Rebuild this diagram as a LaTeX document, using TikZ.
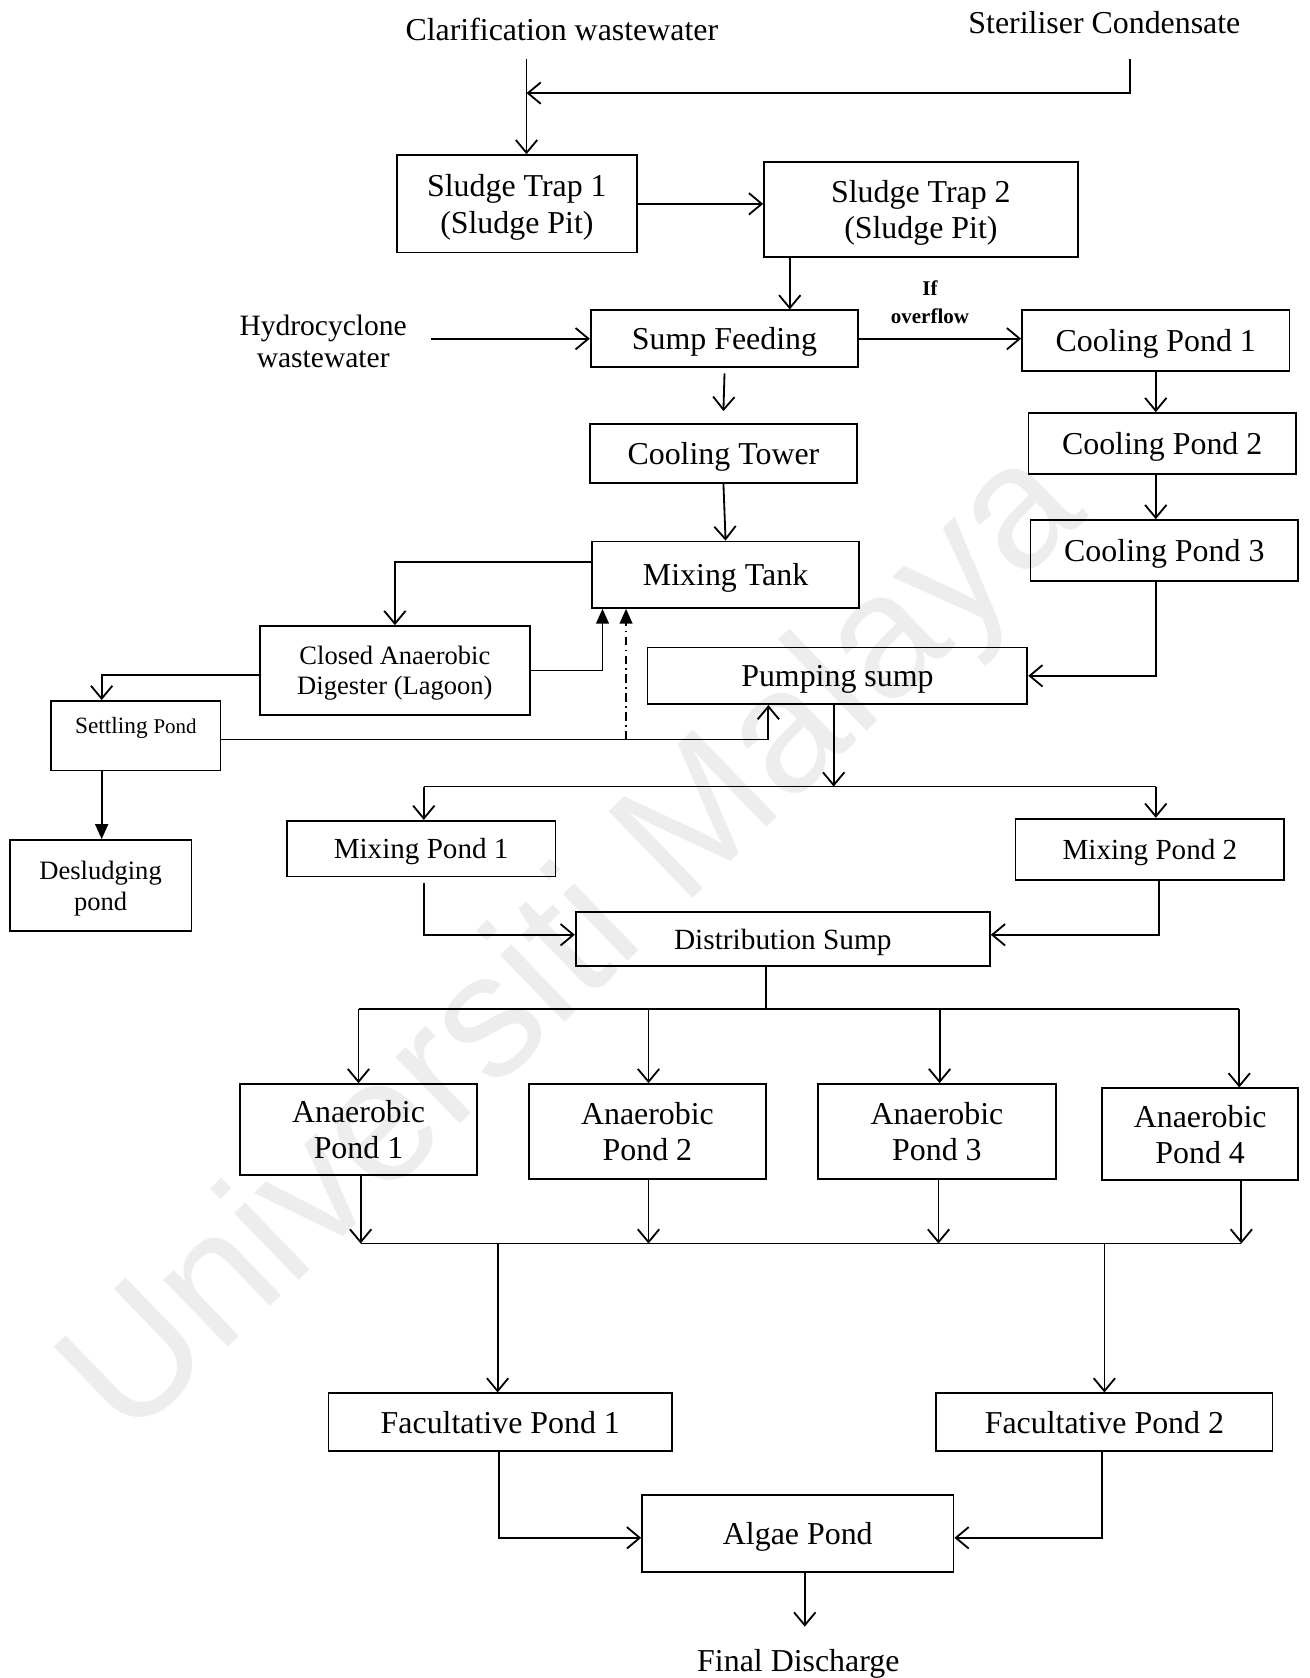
\documentclass[tikz,border=0pt]{standalone}
\usepackage{fontspec}
\setmainfont{Liberation Serif}
\newfontfamily\wmfont{Liberation Sans}
\usetikzlibrary{arrows.meta}
\begin{document}
\begin{tikzpicture}[x=0.5pt,y=-0.5pt,
  box/.style={draw, line width=0.85pt, inner sep=0pt, text depth=0pt, align=center, font=\fontsize{14.9}{17}\selectfont},
  sz/.style 2 args={minimum width=#1*0.5pt, minimum height=#2*0.5pt},
  flow/.style={draw, line width=0.85pt, -{Straight Barb[length=6pt,width=10pt,line width=0.85pt]}},
  fflow/.style={draw, line width=0.85pt, -{Triangle[length=7pt,width=6pt]}},
  plain/.style={draw, line width=0.85pt},
  lbl/.style={inner sep=0pt, text depth=0pt, align=center, font=\fontsize{14.9}{17}\selectfont}]
\useasboundingbox (0,0) rectangle (1224,1568);
\fill[white] (0,0) rectangle (1224,1568);
% watermark
\node[rotate=44, text=black!7, inner sep=0pt, font=\wmfont\fontsize{82}{82}\selectfont] (wm) at (540,885) {Universiti Malaya};

% boxes
\node[box, sz={224}{91}] (st1) at (483,190.5) {Sludge Trap 1\\(Sludge Pit)};
\node[box, sz={293}{89}] (st2) at (860.5,195.5) {Sludge Trap 2\\(Sludge Pit)};
\node[box, sz={250}{53}] (sf) at (677,316.5) {Sump Feeding};
\node[box, sz={250}{57}] (cp1) at (1080,318.5) {Cooling Pond 1};
\node[box, sz={250}{57}] (cp2) at (1086,414.5) {Cooling Pond 2};
\node[box, sz={250}{57}] (cp3) at (1088,514.5) {Cooling Pond 3};
\node[box, sz={250}{55}] (ct) at (676,423.5) {Cooling Tower};
\node[box, sz={250}{62}] (mt) at (678,537) {Mixing Tank};
\node[box, sz={252}{83}, font=\fontsize{12.4}{14}\selectfont] (cad) at (369,626.5) {Closed Anaerobic\\Digester (Lagoon)};
\node[box, sz={158}{65}] (sp) at (127,687.5) {};
\node[lbl, font=\fontsize{10.9}{12}\selectfont] (sptext) at (127,678) {Settling {\fontsize{9.8}{12}\selectfont Pond}};
\node[box, sz={170}{85}, font=\fontsize{12.4}{14.5}\selectfont] (dsl) at (94,827.5) {Desludging\\pond};
\node[box, sz={355}{53}] (ps) at (782.5,631.5) {Pumping sump};
\node[box, sz={251}{52}, font=\fontsize{13.6}{16}\selectfont] (mp1) at (393.5,793) {Mixing Pond 1};
\node[box, sz={251}{57}, font=\fontsize{13.6}{16}\selectfont] (mp2) at (1074.5,793.5) {Mixing Pond 2};
\node[box, sz={387}{51}, font=\fontsize{13.7}{16}\selectfont] (dsump) at (731.5,877.5) {Distribution Sump};
\node[box, sz={222}{85}] (ap1) at (335,1055.5) {Anaerobic\\Pond 1};
\node[box, sz={222}{89}] (ap2) at (605,1057.5) {Anaerobic\\Pond 2};
\node[box, sz={223}{89}] (ap3) at (875.5,1057.5) {Anaerobic\\Pond 3};
\node[box, sz={183}{86}] (ap4) at (1121.5,1060) {Anaerobic\\Pond 4};
\node[box, sz={321}{54}] (fp1) at (467.5,1329) {Facultative Pond 1};
\node[box, sz={314}{54}] (fp2) at (1032,1329) {Facultative Pond 2};
\node[box, sz={291}{72}] (alg) at (745.5,1433) {Algae Pond};

% free texts
\node[lbl] (cw) at (525,27) {Clarification wastewater};
\node[lbl] (sc) at (1032,21) {Steriliser Condensate};
\node[lbl, font=\fontsize{13.8}{15}\selectfont] (hw) at (302,319) {Hydrocyclone\\wastewater};
\node[lbl] (fd) at (746,1552) {Final Discharge};
\node[lbl, font=\bfseries\fontsize{9.8}{13}\selectfont] (ov) at (869,282) {If\\overflow};

% connectors
\coordinate (cwtop) at (492,55);
\coordinate (sctop) at (1056,55);
\coordinate (j1) at (492,87);
\draw[flow] (cwtop) -- (st1.north -| cwtop);
\draw[flow] (sctop) |- (j1);
\draw[flow] (st1.east) -- (st1.east -| st2.west);
\draw[flow] (st2.south -| 738,0) -- (sf.north -| 738,0);
\draw[flow] (sf.west -| 403,0) -- (sf.west);
\draw[flow] (sf.east) -- (sf.east -| cp1.west);
\draw[flow] ([yshift=-2.5pt]sf.south) -- ([yshift=5.5pt]ct.north);
\draw[flow] (ct.south) -- (mt.north);
\draw[flow] (cp1.south -| 1080,0) -- (cp2.north -| 1080,0);
\draw[flow] (cp2.south -| 1080,0) -- (cp3.north -| 1080,0);
\draw[flow] (cp3.south -| 1080,0) |- (ps.east);
\draw[flow] ([yshift=6pt]mt.west) -| (cad.north);
\draw[fflow] (cad.east) -| (mt.south -| 563,0);
\coordinate (dd) at (585,691);
\draw[fflow, dash pattern=on 4pt off 2pt on 0.8pt off 2pt] (dd) -- (mt.south -| dd);
\draw[flow] ([yshift=-2.25pt]cad.west) -| ([xshift=-16pt]sp.north);
\draw[flow] ([yshift=-1.75pt]sp.east) -| (ps.south -| 718,0);
\draw[fflow] (sp.south -| 95,0) -- (dsl.north -| 95,0);
\coordinate (pj) at (779,735);
\coordinate (mL) at (396,735);
\coordinate (mR) at (1080,735);
\draw[flow] (ps.south -| pj) -- (pj);
\draw[plain] (mL) -- (mR);
\draw[flow] (mL) -- (mp1.north -| mL);
\draw[flow] (mR) -- (mp2.north -| mR);
\draw[flow] (396,825) |- ([yshift=2pt]dsump.west);
\draw[flow] (mp2.south -| 1083,0) |- ([yshift=2pt]dsump.east);
\coordinate (dj) at (716,943);
\coordinate (dL) at (335,943);
\coordinate (dR) at (1158,943);
\draw[plain] (dsump.south -| dj) -- (dj);
\draw[plain] (dL) -- (dR);
\draw[flow] (dL) -- (ap1.north);
\draw[flow] (606,943) -- (ap2.north -| 606,0);
\draw[flow] (878,943) -- (ap3.north -| 878,0);
\draw[flow] (dR) -- (ap4.north -| dR);
\coordinate (cL) at (337,1162);
\coordinate (cR) at (1160,1162);
\draw[plain] (cL) -- (cR);
\draw[flow] (ap1.south -| cL) -- (cL);
\draw[flow] (ap2.south -| 606,0) -- (606,1162);
\draw[flow] (ap3.south -| 877,0) -- (877,1162);
\draw[flow] (ap4.south -| cR) -- (cR);
\draw[flow] (465,1162) -- (fp1.north -| 465,0);
\draw[flow] (1032,1162) -- (fp2.north -| 1032,0);
\draw[flow] (fp1.south -| 466,0) |- ([yshift=-2pt]alg.west);
\draw[flow] (fp2.south -| 1030,0) |- ([yshift=-2pt]alg.east);
\coordinate (fdt) at (752,1520);
\draw[flow] (alg.south -| fdt) -- (fdt);
\end{tikzpicture}
\end{document}
